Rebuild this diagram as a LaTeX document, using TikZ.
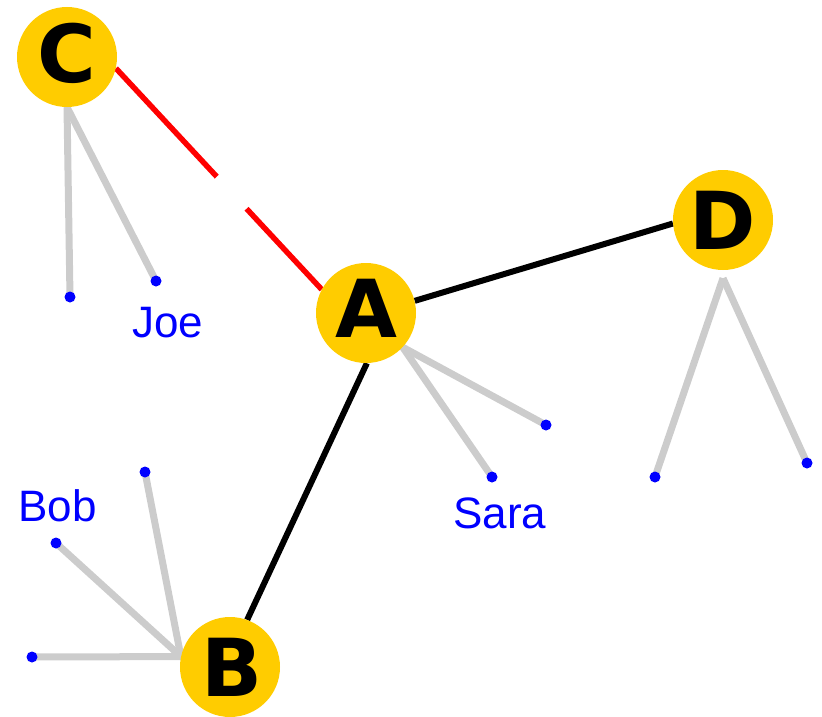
\documentclass[tikz,border=0pt]{standalone}
\usepackage{fontspec}
\setmainfont{Liberation Sans}
\newfontfamily\hubfont{DejaVu Sans}
\usetikzlibrary{calc,backgrounds}
\definecolor{ballfill}{HTML}{FFCC00}
\definecolor{leafgray}{HTML}{CCCCCC}
\definecolor{nameblue}{HTML}{0000FF}
\definecolor{linkred}{HTML}{FF0000}

\begin{document}
\begin{tikzpicture}[x=1pt,y=-1pt,
  ball/.style={circle,fill=ballfill,minimum size=100pt,inner sep=0pt},
  letter/.style={font=\hubfont\fontsize{80}{80}\selectfont\bfseries,text=black,inner sep=0pt},
  leaf/.style={circle,fill=nameblue,minimum size=11pt,inner sep=0pt},
  leafline/.style={draw=leafgray,line width=7pt},
  link/.style={draw=black,line width=6pt},
  redlink/.style={draw=linkred,line width=5.5pt},
  tag/.style={text=nameblue,font=\fontsize{44}{44}\selectfont,anchor=base,inner sep=0pt}]

\useasboundingbox (0,0) rectangle (822,717);

% hubs
\node[ball] (C) at (67,57) {};
\node[ball] (A) at (366,313) {};
\node[ball] (B) at (230,667) {};
\node[ball] (D) at (723,220) {};
\node[letter] (Ct) at ([yshift=4pt]C.center) {C};
\node[letter] (At) at ([yshift=5pt]A.center) {A};
\node[letter] (Bt) at ([xshift=2pt]B.center) {B};
\node[letter] (Dt) at (D.center) {D};

% leaves
\node[leaf] (c1) at (70,297) {};
\node[leaf] (c2) at (156,281) {};
\node[leaf] (a1) at (546,425) {};
\node[leaf] (a2) at (492,477) {};
\node[leaf] (b1) at (145,472) {};
\node[leaf] (b2) at (56,543) {};
\node[leaf] (b3) at (32,657) {};
\node[leaf] (d1) at (655,477) {};
\node[leaf] (d2) at (807,463) {};

% names
\node[tag] (joe) at (168,337) {Joe};
\node[tag] (sara) at (500,528) {Sara};
\node[tag] (bob) at (57.5,521) {Bob};

\coordinate (Cfoot) at (C.south);
\coordinate (Afoot) at (A.-43);
\coordinate (Bfoot) at (B.168);
\coordinate (Dfoot) at ([yshift=-8pt]D.south);
\coordinate (gap1) at ($(C.-13)!0.49!(A.152)$);
\coordinate (gap2) at ($(C.-13)!0.635!(A.152)$);

\begin{pgfonlayer}{background}
  \foreach \f/\l in {Cfoot/c1,Cfoot/c2,Afoot/a1,Afoot/a2,Bfoot/b1,Bfoot/b2,Bfoot/b3,Dfoot/d1,Dfoot/d2}
    \draw[leafline] (\f) -- (\l.center);
  \draw[link] (A.14) -- (D.184);
  \draw[link] (A.-89) -- (B.70);
  \draw[redlink] (C.-13) -- (gap1);
  \draw[redlink] (gap2) -- (A.152);
\end{pgfonlayer}
\end{tikzpicture}
\end{document}
